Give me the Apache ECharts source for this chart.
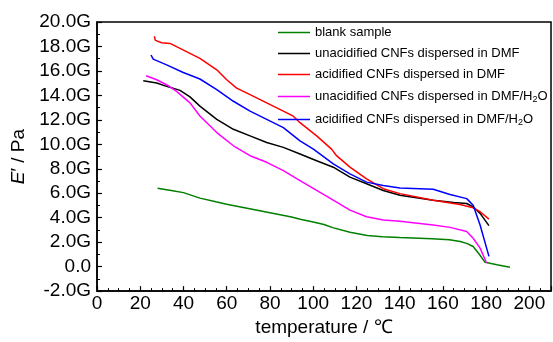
<!DOCTYPE html>
<html><head><meta charset="utf-8">
<script src="https://cdn.jsdelivr.net/npm/echarts@6/dist/echarts.min.js"></script>
<style>html,body{margin:0;padding:0;background:#fff}#c{width:553px;height:342px}</style>
</head><body><div id="c"></div>
<script>
// Series data: temperature (°C) and storage modulus E' (GPa)
const blankT = [28, 35, 40, 47.6, 55, 60, 70, 80, 90, 94, 100, 105, 109, 117, 125, 132, 140, 155, 163, 168, 171, 174, 177, 179.5, 185, 191];
const blankE = [6.4, 6.2, 6.05, 5.6, 5.3, 5.1, 4.75, 4.4, 4.05, 3.88, 3.65, 3.45, 3.19, 2.81, 2.54, 2.45, 2.38, 2.27, 2.2, 2.05, 1.9, 1.65, 0.97, 0.35, 0.15, -0.05];

const unDmfT = [21.4, 27.6, 32.2, 38.4, 43, 47.6, 55.4, 63.1, 70.8, 78.5, 86.2, 93.9, 101.6, 109.3, 117, 124.7, 132.4, 140.1, 155.5, 165, 171, 174, 177.2, 181.3];
const unDmfE = [15.2, 15.01, 14.74, 14.41, 13.88, 13.12, 12.04, 11.23, 10.69, 10.15, 9.75, 9.21, 8.66, 8.13, 7.32, 6.78, 6.23, 5.83, 5.43, 5.25, 5.16, 4.89, 4.35, 3.35];

const acDmfT = [26.5, 27, 29.9, 33.8, 38.4, 47.6, 55.4, 60, 64.6, 70.8, 78.5, 86.2, 90.8, 93.9, 101.6, 108.5, 110.8, 117, 124.7, 132.4, 140.1, 155.5, 167.9, 174, 177.2, 181.3];
const acDmfE = [18.84, 18.5, 18.3, 18.25, 17.85, 17.03, 16.09, 15.28, 14.6, 14.06, 13.39, 12.71, 12.3, 11.77, 10.69, 9.61, 9.07, 8.13, 7.18, 6.37, 5.97, 5.43, 5.08, 4.81, 4.49, 3.89];

const unH2oT = [22.7, 27.6, 32.2, 36.8, 43, 47.6, 55.4, 63.1, 70.8, 78.5, 86.2, 93.9, 101.6, 109.3, 117, 124.7, 132.4, 140.1, 155.5, 163.3, 171, 174, 177.2, 180.2];
const unH2oE = [15.6, 15.28, 14.87, 14.33, 13.39, 12.31, 10.96, 9.88, 9.07, 8.53, 7.85, 7.04, 6.23, 5.43, 4.62, 4.08, 3.81, 3.72, 3.4, 3.21, 2.87, 2.32, 1.51, 0.3];

const acH2oT = [25, 26, 32.2, 39.9, 47.6, 55.4, 63.1, 70.8, 78.5, 86.2, 93.9, 100.1, 109.3, 117, 124.7, 132.4, 140.1, 155.5, 163.3, 171, 174, 177.2, 181.3];
const acH2oE = [17.3, 16.96, 16.49, 15.87, 15.34, 14.47, 13.52, 12.71, 12.04, 11.37, 10.28, 9.61, 8.4, 7.59, 6.91, 6.64, 6.43, 6.32, 5.89, 5.56, 5.02, 3.4, 0.84];

const seriesNames = [
  'blank sample',
  'unacidified CNFs dispersed in DMF',
  'acidified CNFs dispersed in DMF',
  'unacidified CNFs dispersed in DMF/H2O',
  'acidified CNFs dispersed in DMF/H2O'
];
const seriesColors = ['#008000', '#000000', '#ff0000', '#ff00ff', '#0000ff'];
const xTicks = {min: 0, max: 210, interval: 20};
const yTicks = {min: -2, max: 20, interval: 2};

const FONT = 'Liberation Sans, Arial, sans-serif';
const pairs = (t, e) => t.map((v, i) => [v, e[i]]);
const allData = [pairs(blankT, blankE), pairs(unDmfT, unDmfE), pairs(acDmfT, acDmfE), pairs(unH2oT, unH2oE), pairs(acH2oT, acH2oE)];

const chart = echarts.init(document.getElementById('c'), null, {renderer: 'canvas'});
chart.setOption({
  animation: false,
  backgroundColor: '#fff',
  grid: {left: 97, right: 2, top: 22, bottom: 48, show: true, borderColor: '#000', borderWidth: 1.5, backgroundColor: 'transparent'},
  legend: {
    left: 278, top: 26, orient: 'vertical', padding: 0,
    itemWidth: 32, itemHeight: 1.5, itemGap: 8,
    icon: 'rect',
    data: seriesNames,
    formatter: function (n) {
      if (n.endsWith('H2O')) return '{a|' + n.slice(0, -2) + '}{s|2}{a|O}';
      return '{a|' + n + '}';
    },
    textStyle: {
      fontFamily: FONT, fontSize: 13, color: '#000',
      rich: {a: {fontFamily: FONT, fontSize: 13, color: '#000', lineHeight: 15},
             s: {fontFamily: FONT, fontSize: 9, color: '#000', verticalAlign: 'bottom', lineHeight: 15, padding: [6, 0, 0, 0]}}
    }
  },
  xAxis: {
    type: 'value', min: xTicks.min, max: xTicks.max, interval: xTicks.interval,
    name: 'temperature / ℃', nameLocation: 'middle', nameGap: 24,
    nameTextStyle: {fontFamily: FONT, fontSize: 19, color: '#000'},
    axisLine: {show: true, onZero: false, lineStyle: {color: '#000', width: 1.5}},
    axisTick: {show: true, inside: true, length: 5, lineStyle: {color: '#000', width: 1.2}},
    minorTick: {show: true, splitNumber: 4, length: 3, lineStyle: {color: '#000', width: 1}},
    splitLine: {show: false},
    axisLabel: {fontFamily: FONT, fontSize: 19, color: '#000', margin: 3, showMaxLabel: false,
      formatter: v => (v % 20 === 0 && v <= 200) ? String(v) : ''}
  },
  yAxis: {
    type: 'value', min: yTicks.min, max: yTicks.max, interval: yTicks.interval,
    name: '{i|E}{n|\u2032 / Pa}', nameLocation: 'middle', nameGap: 62, nameRotate: 90,
    nameTextStyle: {fontFamily: FONT, fontSize: 19, color: '#000',
      rich: {i: {fontFamily: FONT, fontSize: 19, fontStyle: 'italic', color: '#000'},
             n: {fontFamily: FONT, fontSize: 19, color: '#000'}}},
    axisLine: {show: true, onZero: false, lineStyle: {color: '#000', width: 1.5}},
    axisTick: {show: true, inside: true, length: 5, lineStyle: {color: '#000', width: 1.2}},
    minorTick: {show: true, splitNumber: 2, length: 3, lineStyle: {color: '#000', width: 1}},
    splitLine: {show: false},
    axisLabel: {fontFamily: FONT, fontSize: 19, color: '#000', margin: 6,
      formatter: v => v === 0 ? '0.0' : v.toFixed(1) + 'G'}
  },
  series: allData.map((d, i) => ({
    name: seriesNames[i], type: 'line', data: d, showSymbol: false, symbol: 'none',
    smooth: false, color: seriesColors[i],
    itemStyle: {color: seriesColors[i]},
    lineStyle: {color: seriesColors[i], width: 1.5}
  }))
});
</script></body></html>
